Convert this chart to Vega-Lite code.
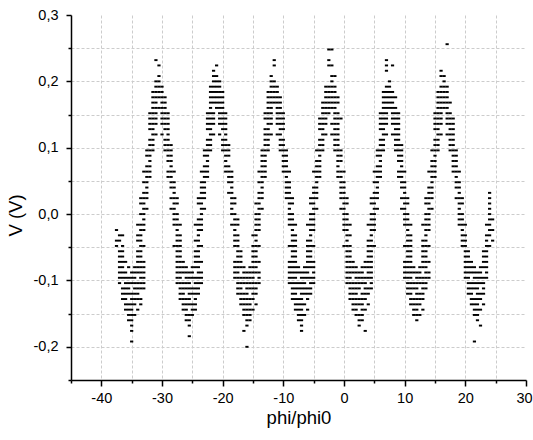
{
"$schema":"https://vega.github.io/schema/vega-lite/v6.json",
"width":455,"height":365,
"autosize":{"type":"none"},
"padding":{"left":71,"top":15,"right":7,"bottom":60},
"background":"white",
"config":{
"view":{"stroke":null},
"locale":{"number":{"decimal":",","thousands":".","grouping":[3],"currency":["",""],"minus":"-"}},
"font":"Liberation Sans",
"axis":{"domainColor":"black","domainWidth":1.5,"tickColor":"black","tickWidth":1.5,"labelColor":"black","labelFont":"Liberation Sans","labelFontSize":14.5,"titleFont":"Liberation Sans","titleFontSize":18.5,"titleFontWeight":"normal","titleColor":"black","gridColor":"#cccccc","gridDash":[3,2],"gridWidth":1}
},
"data":{"values":[
{"x":-37.5,"y":-0.024},{"x":-37,"y":-0.032},{"x":-36.5,"y":-0.032},{"x":-37.5,"y":-0.04},{"x":-37,"y":-0.04},{"x":-37.5,"y":-0.048},{"x":-36.5,"y":-0.048},{"x":-37,"y":-0.056},{"x":-36.5,"y":-0.056},{"x":-37,"y":-0.064},{"x":-36.5,"y":-0.064},
{"x":-37,"y":-0.072},{"x":-36.5,"y":-0.072},{"x":-36,"y":-0.072},{"x":-34,"y":-0.072},{"x":-33.5,"y":-0.072},{"x":-33,"y":-0.072},
{"x":-37,"y":-0.08},{"x":-36.5,"y":-0.08},{"x":-35.5,"y":-0.08},{"x":-34.5,"y":-0.08},{"x":-34,"y":-0.08},{"x":-33.5,"y":-0.08},{"x":-33,"y":-0.08},
{"x":-37,"y":-0.088},{"x":-36.5,"y":-0.088},{"x":-36,"y":-0.088},{"x":-35,"y":-0.088},{"x":-34.5,"y":-0.088},{"x":-34,"y":-0.088},{"x":-33.5,"y":-0.088},{"x":-33,"y":-0.088},
{"x":-37,"y":-0.096},{"x":-36.5,"y":-0.096},{"x":-36,"y":-0.096},{"x":-35.5,"y":-0.096},{"x":-35,"y":-0.096},{"x":-34.5,"y":-0.096},{"x":-33.5,"y":-0.096},{"x":-33,"y":-0.096},
{"x":-37,"y":-0.104},{"x":-36,"y":-0.104},{"x":-35.5,"y":-0.104},{"x":-35,"y":-0.104},{"x":-34.5,"y":-0.104},{"x":-34,"y":-0.104},{"x":-33.5,"y":-0.104},{"x":-33,"y":-0.104},
{"x":-36.5,"y":-0.112},{"x":-36,"y":-0.112},{"x":-35.5,"y":-0.112},{"x":-34.5,"y":-0.112},{"x":-34,"y":-0.112},{"x":-33.5,"y":-0.112},{"x":-33,"y":-0.112},
{"x":-36.5,"y":-0.12},{"x":-36,"y":-0.12},{"x":-35.5,"y":-0.12},{"x":-35,"y":-0.12},{"x":-34.5,"y":-0.12},{"x":-34,"y":-0.12},
{"x":-36.5,"y":-0.128},{"x":-36,"y":-0.128},{"x":-35,"y":-0.128},{"x":-34.5,"y":-0.128},{"x":-34,"y":-0.128},{"x":-33.5,"y":-0.128},
{"x":-36,"y":-0.136},{"x":-35.5,"y":-0.136},{"x":-35,"y":-0.136},{"x":-34.5,"y":-0.136},{"x":-33.5,"y":-0.136},
{"x":-36,"y":-0.144},{"x":-35.5,"y":-0.144},{"x":-35,"y":-0.144},{"x":-34,"y":-0.144},
{"x":-35.5,"y":-0.152},{"x":-35,"y":-0.152},{"x":-34.5,"y":-0.152},
{"x":-35.5,"y":-0.16},{"x":-35,"y":-0.16},{"x":-35,"y":-0.168},{"x":-35,"y":-0.176},{"x":-35,"y":-0.192},
{"x":-33.5,"y":-0.064},{"x":-34,"y":-0.064},{"x":-33.5,"y":-0.056},{"x":-34,"y":-0.056},{"x":-33,"y":-0.048},{"x":-33.5,"y":-0.048},{"x":-33.5,"y":-0.04},{"x":-34,"y":-0.04},{"x":-33.5,"y":-0.032},{"x":-34,"y":-0.032},{"x":-33,"y":-0.024},{"x":-33.5,"y":-0.024},{"x":-33,"y":-0.016},{"x":-33.5,"y":-0.016},{"x":-34,"y":-0.016},{"x":-33,"y":-0.008},{"x":-33,"y":0},{"x":-33.5,"y":0},{"x":-32.5,"y":0.008},{"x":-33,"y":0.008},{"x":-33,"y":0.016},{"x":-33.5,"y":0.016},{"x":-32.5,"y":0.024},{"x":-33,"y":0.024},{"x":-33.5,"y":0.024},{"x":-32.5,"y":0.032},{"x":-33,"y":0.032},{"x":-32.5,"y":0.04},{"x":-32.5,"y":0.048},{"x":-33,"y":0.048},{"x":-32,"y":0.056},{"x":-32.5,"y":0.056},{"x":-32,"y":0.064},{"x":-32.5,"y":0.064},{"x":-33,"y":0.064},{"x":-32,"y":0.072},{"x":-32.5,"y":0.072},{"x":-32,"y":0.08},{"x":-32,"y":0.088},{"x":-32.5,"y":0.088},{"x":-31.5,"y":0.096},{"x":-32,"y":0.096},{"x":-32.5,"y":0.096},{"x":-31.5,"y":0.104},{"x":-32,"y":0.104},{"x":-31.5,"y":0.112},{"x":-32,"y":0.112},{"x":-31,"y":0.12},{"x":-31.5,"y":0.12},{"x":-31.5,"y":0.128},{"x":-32,"y":0.128},{"x":-31,"y":0.136},{"x":-31.5,"y":0.136},{"x":-32,"y":0.136},
{"x":-30,"y":0.136},{"x":-29.5,"y":0.136},{"x":-29,"y":0.136},{"x":-29.5,"y":0.128},{"x":-29,"y":0.128},{"x":-30,"y":0.12},{"x":-29,"y":0.12},{"x":-29.5,"y":0.112},{"x":-29,"y":0.112},{"x":-29.5,"y":0.104},{"x":-29,"y":0.104},{"x":-28.5,"y":0.104},{"x":-29.5,"y":0.096},{"x":-29,"y":0.096},{"x":-28.5,"y":0.096},{"x":-29,"y":0.088},{"x":-28.5,"y":0.088},{"x":-29,"y":0.08},{"x":-28.5,"y":0.08},{"x":-28.5,"y":0.072},{"x":-29,"y":0.064},{"x":-28.5,"y":0.064},{"x":-28,"y":0.064},{"x":-29,"y":0.056},{"x":-28.5,"y":0.056},{"x":-28.5,"y":0.048},{"x":-28,"y":0.048},{"x":-28.5,"y":0.04},{"x":-28,"y":0.04},{"x":-28,"y":0.032},{"x":-28.5,"y":0.024},{"x":-28,"y":0.024},{"x":-27.5,"y":0.024},{"x":-28,"y":0.016},{"x":-27.5,"y":0.016},{"x":-28.5,"y":0.008},{"x":-28,"y":0.008},{"x":-28,"y":0},{"x":-27.5,"y":0},{"x":-28,"y":-0.008},{"x":-27.5,"y":-0.008},{"x":-28,"y":-0.016},{"x":-27.5,"y":-0.016},{"x":-27,"y":-0.016},{"x":-27.5,"y":-0.024},{"x":-27.5,"y":-0.032},{"x":-27,"y":-0.032},{"x":-27.5,"y":-0.04},{"x":-27,"y":-0.04},{"x":-28,"y":-0.048},{"x":-27.5,"y":-0.048},{"x":-27,"y":-0.048},{"x":-27.5,"y":-0.056},{"x":-27,"y":-0.056},{"x":-27.5,"y":-0.064},{"x":-27,"y":-0.064},
{"x":-31,"y":0.232},{"x":-30.5,"y":0.224},{"x":-30.5,"y":0.208},{"x":-31,"y":0.2},{"x":-30.5,"y":0.2},{"x":-31,"y":0.192},{"x":-30.5,"y":0.192},{"x":-30,"y":0.192},{"x":-31.5,"y":0.184},{"x":-31,"y":0.184},{"x":-30.5,"y":0.184},{"x":-30,"y":0.184},{"x":-31.5,"y":0.176},{"x":-31,"y":0.176},{"x":-30.5,"y":0.176},{"x":-30,"y":0.176},{"x":-29.5,"y":0.176},{"x":-31.5,"y":0.168},{"x":-31,"y":0.168},{"x":-30,"y":0.168},{"x":-29.5,"y":0.168},{"x":-31.5,"y":0.16},{"x":-31,"y":0.16},{"x":-30.5,"y":0.16},{"x":-30,"y":0.16},{"x":-29.5,"y":0.16},{"x":-32,"y":0.152},{"x":-31.5,"y":0.152},{"x":-31,"y":0.152},{"x":-30,"y":0.152},{"x":-29.5,"y":0.152},{"x":-29,"y":0.152},{"x":-32,"y":0.144},{"x":-31.5,"y":0.144},{"x":-31,"y":0.144},{"x":-30,"y":0.144},{"x":-29.5,"y":0.144},{"x":-29,"y":0.144},
{"x":-27.5,"y":-0.072},{"x":-27,"y":-0.072},{"x":-26.5,"y":-0.072},{"x":-24.5,"y":-0.072},{"x":-24,"y":-0.072},{"x":-23.5,"y":-0.072},
{"x":-27.5,"y":-0.08},{"x":-27,"y":-0.08},{"x":-26.5,"y":-0.08},{"x":-26,"y":-0.08},{"x":-25,"y":-0.08},{"x":-24.5,"y":-0.08},{"x":-24,"y":-0.08},
{"x":-27.5,"y":-0.088},{"x":-27,"y":-0.088},{"x":-26.5,"y":-0.088},{"x":-26,"y":-0.088},{"x":-25.5,"y":-0.088},{"x":-25,"y":-0.088},{"x":-24,"y":-0.088},{"x":-23.5,"y":-0.088},
{"x":-27.5,"y":-0.096},{"x":-27,"y":-0.096},{"x":-26,"y":-0.096},{"x":-25.5,"y":-0.096},{"x":-25,"y":-0.096},{"x":-24.5,"y":-0.096},{"x":-24,"y":-0.096},{"x":-23.5,"y":-0.096},
{"x":-27.5,"y":-0.104},{"x":-27,"y":-0.104},{"x":-26.5,"y":-0.104},{"x":-26,"y":-0.104},{"x":-25.5,"y":-0.104},{"x":-24.5,"y":-0.104},{"x":-24,"y":-0.104},{"x":-23.5,"y":-0.104},
{"x":-27,"y":-0.112},{"x":-26.5,"y":-0.112},{"x":-26,"y":-0.112},{"x":-25.5,"y":-0.112},{"x":-25,"y":-0.112},{"x":-24.5,"y":-0.112},{"x":-24,"y":-0.112},
{"x":-27,"y":-0.12},{"x":-26.5,"y":-0.12},{"x":-25.5,"y":-0.12},{"x":-25,"y":-0.12},{"x":-24.5,"y":-0.12},{"x":-24,"y":-0.12},
{"x":-27,"y":-0.128},{"x":-26.5,"y":-0.128},{"x":-26,"y":-0.128},{"x":-25.5,"y":-0.128},{"x":-24.5,"y":-0.128},
{"x":-26.5,"y":-0.136},{"x":-26,"y":-0.136},{"x":-25.5,"y":-0.136},{"x":-25,"y":-0.136},{"x":-24.5,"y":-0.136},
{"x":-26.5,"y":-0.144},{"x":-26,"y":-0.144},{"x":-25,"y":-0.144},{"x":-24.5,"y":-0.144},
{"x":-26,"y":-0.152},{"x":-25.5,"y":-0.152},{"x":-25,"y":-0.152},{"x":-26,"y":-0.16},{"x":-25.5,"y":-0.16},{"x":-25.5,"y":-0.168},{"x":-25.5,"y":-0.184},
{"x":-24,"y":-0.064},{"x":-24.5,"y":-0.064},{"x":-24,"y":-0.056},{"x":-24.5,"y":-0.056},{"x":-23.5,"y":-0.048},{"x":-24,"y":-0.048},{"x":-24,"y":-0.04},{"x":-24.5,"y":-0.04},{"x":-24,"y":-0.032},{"x":-23.5,"y":-0.024},{"x":-24,"y":-0.024},{"x":-23.5,"y":-0.016},{"x":-24,"y":-0.016},{"x":-24.5,"y":-0.016},{"x":-23.5,"y":-0.008},{"x":-24,"y":-0.008},{"x":-23.5,"y":0},{"x":-23,"y":0.008},{"x":-23.5,"y":0.008},{"x":-23.5,"y":0.016},{"x":-24,"y":0.016},{"x":-23,"y":0.024},{"x":-23.5,"y":0.024},{"x":-24,"y":0.024},{"x":-23,"y":0.032},{"x":-23.5,"y":0.032},{"x":-23,"y":0.04},{"x":-23.5,"y":0.04},{"x":-23,"y":0.048},{"x":-23.5,"y":0.048},{"x":-22.5,"y":0.056},{"x":-23,"y":0.056},{"x":-22.5,"y":0.064},{"x":-23,"y":0.064},{"x":-23.5,"y":0.064},{"x":-22.5,"y":0.072},{"x":-23,"y":0.072},{"x":-22.5,"y":0.08},{"x":-22.5,"y":0.088},{"x":-23,"y":0.088},{"x":-22,"y":0.096},{"x":-22.5,"y":0.096},{"x":-23,"y":0.096},{"x":-22,"y":0.104},{"x":-22.5,"y":0.104},{"x":-22,"y":0.112},{"x":-22.5,"y":0.112},{"x":-21.5,"y":0.12},{"x":-22,"y":0.12},{"x":-22,"y":0.128},{"x":-22.5,"y":0.128},{"x":-21.5,"y":0.136},{"x":-22,"y":0.136},{"x":-22.5,"y":0.136},
{"x":-20.5,"y":0.136},{"x":-20,"y":0.136},{"x":-19.5,"y":0.136},{"x":-20,"y":0.128},{"x":-19.5,"y":0.128},{"x":-20.5,"y":0.12},{"x":-19.5,"y":0.12},{"x":-20,"y":0.112},{"x":-19.5,"y":0.112},{"x":-20,"y":0.104},{"x":-19.5,"y":0.104},{"x":-19,"y":0.104},{"x":-20,"y":0.096},{"x":-19.5,"y":0.096},{"x":-19,"y":0.096},{"x":-19.5,"y":0.088},{"x":-19,"y":0.088},{"x":-19.5,"y":0.08},{"x":-19.5,"y":0.072},{"x":-19,"y":0.072},{"x":-19.5,"y":0.064},{"x":-19,"y":0.064},{"x":-18.5,"y":0.064},{"x":-19,"y":0.056},{"x":-18.5,"y":0.056},{"x":-19,"y":0.048},{"x":-18.5,"y":0.048},{"x":-18.5,"y":0.04},{"x":-19,"y":0.032},{"x":-18.5,"y":0.032},{"x":-18.5,"y":0.024},{"x":-18,"y":0.024},{"x":-18.5,"y":0.016},{"x":-18,"y":0.016},{"x":-18.5,"y":0.008},{"x":-18.5,"y":0},{"x":-18,"y":0},{"x":-18,"y":-0.008},{"x":-17.5,"y":-0.008},{"x":-18.5,"y":-0.016},{"x":-18,"y":-0.016},{"x":-17.5,"y":-0.016},{"x":-18,"y":-0.024},{"x":-18,"y":-0.032},{"x":-17.5,"y":-0.032},{"x":-18,"y":-0.04},{"x":-17.5,"y":-0.04},{"x":-18,"y":-0.048},{"x":-17.5,"y":-0.048},{"x":-17.5,"y":-0.056},{"x":-17,"y":-0.056},{"x":-17.5,"y":-0.064},{"x":-17,"y":-0.064},
{"x":-21,"y":0.224},{"x":-21.5,"y":0.216},{"x":-21.5,"y":0.208},{"x":-21,"y":0.208},{"x":-21.5,"y":0.2},{"x":-21,"y":0.2},{"x":-20.5,"y":0.2},{"x":-22,"y":0.192},{"x":-21.5,"y":0.192},{"x":-21,"y":0.192},{"x":-20.5,"y":0.192},{"x":-22,"y":0.184},{"x":-21.5,"y":0.184},{"x":-21,"y":0.184},{"x":-20.5,"y":0.184},{"x":-20,"y":0.184},{"x":-22,"y":0.176},{"x":-21.5,"y":0.176},{"x":-21,"y":0.176},{"x":-20.5,"y":0.176},{"x":-20,"y":0.176},{"x":-22,"y":0.168},{"x":-21.5,"y":0.168},{"x":-21,"y":0.168},{"x":-20.5,"y":0.168},{"x":-20,"y":0.168},{"x":-22,"y":0.16},{"x":-21,"y":0.16},{"x":-20.5,"y":0.16},{"x":-20,"y":0.16},{"x":-22.5,"y":0.152},{"x":-22,"y":0.152},{"x":-21.5,"y":0.152},{"x":-20.5,"y":0.152},{"x":-20,"y":0.152},{"x":-19.5,"y":0.152},{"x":-22.5,"y":0.144},{"x":-22,"y":0.144},{"x":-21.5,"y":0.144},{"x":-20.5,"y":0.144},{"x":-20,"y":0.144},{"x":-19.5,"y":0.144},
{"x":-18,"y":-0.072},{"x":-17.5,"y":-0.072},{"x":-17,"y":-0.072},{"x":-15,"y":-0.072},{"x":-14.5,"y":-0.072},{"x":-14,"y":-0.072},
{"x":-18,"y":-0.08},{"x":-17.5,"y":-0.08},{"x":-17,"y":-0.08},{"x":-16.5,"y":-0.08},{"x":-15.5,"y":-0.08},{"x":-15,"y":-0.08},{"x":-14.5,"y":-0.08},
{"x":-18,"y":-0.088},{"x":-17.5,"y":-0.088},{"x":-16.5,"y":-0.088},{"x":-16,"y":-0.088},{"x":-15.5,"y":-0.088},{"x":-15,"y":-0.088},{"x":-14.5,"y":-0.088},{"x":-14,"y":-0.088},
{"x":-18,"y":-0.096},{"x":-17.5,"y":-0.096},{"x":-17,"y":-0.096},{"x":-16.5,"y":-0.096},{"x":-16,"y":-0.096},{"x":-15.5,"y":-0.096},{"x":-15,"y":-0.096},{"x":-14,"y":-0.096},
{"x":-17.5,"y":-0.104},{"x":-17,"y":-0.104},{"x":-16.5,"y":-0.104},{"x":-16,"y":-0.104},{"x":-15.5,"y":-0.104},{"x":-15,"y":-0.104},{"x":-14.5,"y":-0.104},{"x":-14,"y":-0.104},
{"x":-17.5,"y":-0.112},{"x":-17,"y":-0.112},{"x":-16,"y":-0.112},{"x":-15.5,"y":-0.112},{"x":-15,"y":-0.112},{"x":-14.5,"y":-0.112},
{"x":-17.5,"y":-0.12},{"x":-17,"y":-0.12},{"x":-16.5,"y":-0.12},{"x":-16,"y":-0.12},{"x":-15,"y":-0.12},{"x":-14.5,"y":-0.12},
{"x":-17,"y":-0.128},{"x":-16.5,"y":-0.128},{"x":-16,"y":-0.128},{"x":-15.5,"y":-0.128},{"x":-15,"y":-0.128},
{"x":-17,"y":-0.136},{"x":-16.5,"y":-0.136},{"x":-16,"y":-0.136},{"x":-15.5,"y":-0.136},{"x":-14.5,"y":-0.136},
{"x":-16.5,"y":-0.144},{"x":-16,"y":-0.144},{"x":-15.5,"y":-0.144},{"x":-15,"y":-0.144},
{"x":-16.5,"y":-0.152},{"x":-16,"y":-0.152},{"x":-15.5,"y":-0.152},{"x":-16,"y":-0.16},{"x":-15.5,"y":-0.16},{"x":-16,"y":-0.168},{"x":-16.5,"y":-0.176},{"x":-16,"y":-0.2},
{"x":-14.5,"y":-0.064},{"x":-15,"y":-0.064},{"x":-14.5,"y":-0.056},{"x":-15,"y":-0.056},{"x":-14,"y":-0.048},{"x":-14.5,"y":-0.048},{"x":-15,"y":-0.048},{"x":-14.5,"y":-0.04},{"x":-14.5,"y":-0.032},{"x":-15,"y":-0.032},{"x":-14,"y":-0.024},{"x":-14.5,"y":-0.024},{"x":-14,"y":-0.016},{"x":-14.5,"y":-0.016},{"x":-14,"y":-0.008},{"x":-14.5,"y":-0.008},{"x":-14,"y":0},{"x":-14.5,"y":0},{"x":-13.5,"y":0.008},{"x":-14,"y":0.008},{"x":-14,"y":0.016},{"x":-14.5,"y":0.016},{"x":-13.5,"y":0.024},{"x":-14,"y":0.024},{"x":-13.5,"y":0.032},{"x":-14,"y":0.032},{"x":-13.5,"y":0.04},{"x":-13.5,"y":0.048},{"x":-14,"y":0.048},{"x":-13,"y":0.056},{"x":-13.5,"y":0.056},{"x":-13,"y":0.064},{"x":-13.5,"y":0.064},{"x":-14,"y":0.064},{"x":-13,"y":0.072},{"x":-13.5,"y":0.072},{"x":-13,"y":0.08},{"x":-13.5,"y":0.08},{"x":-13,"y":0.088},{"x":-13.5,"y":0.088},{"x":-12.5,"y":0.096},{"x":-13,"y":0.096},{"x":-13.5,"y":0.096},{"x":-12.5,"y":0.104},{"x":-13,"y":0.104},{"x":-12.5,"y":0.112},{"x":-13,"y":0.112},{"x":-12,"y":0.12},{"x":-12.5,"y":0.12},{"x":-13,"y":0.12},{"x":-12.5,"y":0.128},{"x":-13,"y":0.128},{"x":-12,"y":0.136},{"x":-12.5,"y":0.136},
{"x":-11,"y":0.136},{"x":-10.5,"y":0.136},{"x":-10,"y":0.136},{"x":-10.5,"y":0.128},{"x":-10,"y":0.128},{"x":-11,"y":0.12},{"x":-10.5,"y":0.12},{"x":-10.5,"y":0.112},{"x":-10,"y":0.112},{"x":-10.5,"y":0.104},{"x":-10,"y":0.104},{"x":-10.5,"y":0.096},{"x":-10,"y":0.096},{"x":-9.5,"y":0.096},{"x":-10,"y":0.088},{"x":-9.5,"y":0.088},{"x":-10,"y":0.08},{"x":-9.5,"y":0.08},{"x":-10,"y":0.072},{"x":-9.5,"y":0.072},{"x":-10,"y":0.064},{"x":-9.5,"y":0.064},{"x":-9,"y":0.064},{"x":-9.5,"y":0.056},{"x":-9.5,"y":0.048},{"x":-9,"y":0.048},{"x":-9.5,"y":0.04},{"x":-9,"y":0.04},{"x":-9.5,"y":0.032},{"x":-9,"y":0.032},{"x":-9.5,"y":0.024},{"x":-9,"y":0.024},{"x":-8.5,"y":0.024},{"x":-9,"y":0.016},{"x":-8.5,"y":0.016},{"x":-9,"y":0.008},{"x":-9,"y":0},{"x":-8.5,"y":0},{"x":-9,"y":-0.008},{"x":-8.5,"y":-0.008},{"x":-9,"y":-0.016},{"x":-8.5,"y":-0.016},{"x":-8,"y":-0.016},{"x":-8.5,"y":-0.024},{"x":-8.5,"y":-0.032},{"x":-8,"y":-0.032},{"x":-8.5,"y":-0.04},{"x":-8,"y":-0.04},{"x":-9,"y":-0.048},{"x":-8.5,"y":-0.048},{"x":-8,"y":-0.048},{"x":-8.5,"y":-0.056},{"x":-8,"y":-0.056},{"x":-8.5,"y":-0.064},{"x":-8,"y":-0.064},
{"x":-11.5,"y":0.232},{"x":-11.5,"y":0.224},{"x":-12,"y":0.208},{"x":-12,"y":0.2},{"x":-11.5,"y":0.2},{"x":-12,"y":0.192},{"x":-11.5,"y":0.192},{"x":-11,"y":0.192},{"x":-12.5,"y":0.184},{"x":-12,"y":0.184},{"x":-11.5,"y":0.184},{"x":-11,"y":0.184},{"x":-12.5,"y":0.176},{"x":-12,"y":0.176},{"x":-11.5,"y":0.176},{"x":-11,"y":0.176},{"x":-10.5,"y":0.176},{"x":-12.5,"y":0.168},{"x":-12,"y":0.168},{"x":-11.5,"y":0.168},{"x":-11,"y":0.168},{"x":-10.5,"y":0.168},{"x":-12.5,"y":0.16},{"x":-12,"y":0.16},{"x":-11,"y":0.16},{"x":-10.5,"y":0.16},{"x":-13,"y":0.152},{"x":-12.5,"y":0.152},{"x":-12,"y":0.152},{"x":-11,"y":0.152},{"x":-10.5,"y":0.152},{"x":-10,"y":0.152},{"x":-13,"y":0.144},{"x":-12.5,"y":0.144},{"x":-12,"y":0.144},{"x":-11,"y":0.144},{"x":-10.5,"y":0.144},{"x":-10,"y":0.144},
{"x":-9,"y":-0.072},{"x":-8.5,"y":-0.072},{"x":-8,"y":-0.072},{"x":-6,"y":-0.072},{"x":-5.5,"y":-0.072},{"x":-5,"y":-0.072},
{"x":-9,"y":-0.08},{"x":-8.5,"y":-0.08},{"x":-8,"y":-0.08},{"x":-7.5,"y":-0.08},{"x":-6.5,"y":-0.08},{"x":-6,"y":-0.08},{"x":-5.5,"y":-0.08},{"x":-5,"y":-0.08},
{"x":-9,"y":-0.088},{"x":-8.5,"y":-0.088},{"x":-8,"y":-0.088},{"x":-7.5,"y":-0.088},{"x":-7,"y":-0.088},{"x":-6.5,"y":-0.088},{"x":-6,"y":-0.088},{"x":-5,"y":-0.088},
{"x":-9,"y":-0.096},{"x":-8.5,"y":-0.096},{"x":-8,"y":-0.096},{"x":-7,"y":-0.096},{"x":-6.5,"y":-0.096},{"x":-6,"y":-0.096},{"x":-5.5,"y":-0.096},{"x":-5,"y":-0.096},
{"x":-9,"y":-0.104},{"x":-8.5,"y":-0.104},{"x":-8,"y":-0.104},{"x":-7.5,"y":-0.104},{"x":-7,"y":-0.104},{"x":-6.5,"y":-0.104},{"x":-5.5,"y":-0.104},{"x":-5,"y":-0.104},
{"x":-8.5,"y":-0.112},{"x":-8,"y":-0.112},{"x":-7.5,"y":-0.112},{"x":-7,"y":-0.112},{"x":-6.5,"y":-0.112},{"x":-6,"y":-0.112},{"x":-5.5,"y":-0.112},
{"x":-8.5,"y":-0.12},{"x":-8,"y":-0.12},{"x":-7,"y":-0.12},{"x":-6.5,"y":-0.12},{"x":-6,"y":-0.12},{"x":-5.5,"y":-0.12},
{"x":-8.5,"y":-0.128},{"x":-8,"y":-0.128},{"x":-7.5,"y":-0.128},{"x":-7,"y":-0.128},{"x":-6,"y":-0.128},
{"x":-8,"y":-0.136},{"x":-7.5,"y":-0.136},{"x":-7,"y":-0.136},{"x":-6.5,"y":-0.136},
{"x":-8,"y":-0.144},{"x":-7.5,"y":-0.144},{"x":-7,"y":-0.144},{"x":-6,"y":-0.144},
{"x":-7.5,"y":-0.152},{"x":-7,"y":-0.152},{"x":-6.5,"y":-0.152},{"x":-7.5,"y":-0.16},{"x":-7,"y":-0.16},{"x":-7,"y":-0.168},{"x":-7,"y":-0.176},
{"x":-5.5,"y":-0.064},{"x":-6,"y":-0.064},{"x":-5.5,"y":-0.056},{"x":-6,"y":-0.056},{"x":-5,"y":-0.048},{"x":-5.5,"y":-0.048},{"x":-6,"y":-0.048},{"x":-5.5,"y":-0.04},{"x":-6,"y":-0.04},{"x":-5.5,"y":-0.032},{"x":-5,"y":-0.024},{"x":-5.5,"y":-0.024},{"x":-5,"y":-0.016},{"x":-5.5,"y":-0.016},{"x":-6,"y":-0.016},{"x":-5,"y":-0.008},{"x":-5.5,"y":-0.008},{"x":-5,"y":0},{"x":-5.5,"y":0},{"x":-4.5,"y":0.008},{"x":-5,"y":0.008},{"x":-5,"y":0.016},{"x":-5.5,"y":0.016},{"x":-4.5,"y":0.024},{"x":-5,"y":0.024},{"x":-5.5,"y":0.024},{"x":-4.5,"y":0.032},{"x":-5,"y":0.032},{"x":-4.5,"y":0.04},{"x":-5,"y":0.04},{"x":-4.5,"y":0.048},{"x":-4,"y":0.056},{"x":-4.5,"y":0.056},{"x":-4,"y":0.064},{"x":-4.5,"y":0.064},{"x":-5,"y":0.064},{"x":-4,"y":0.072},{"x":-4.5,"y":0.072},{"x":-4,"y":0.08},{"x":-4.5,"y":0.08},{"x":-4,"y":0.088},{"x":-3.5,"y":0.096},{"x":-4,"y":0.096},{"x":-4.5,"y":0.096},{"x":-3.5,"y":0.104},{"x":-4,"y":0.104},{"x":-3.5,"y":0.112},{"x":-4,"y":0.112},{"x":-3,"y":0.12},{"x":-3.5,"y":0.12},{"x":-3.5,"y":0.128},{"x":-4,"y":0.128},{"x":-3,"y":0.136},{"x":-3.5,"y":0.136},{"x":-4,"y":0.136},
{"x":-2,"y":0.136},{"x":-1.5,"y":0.136},{"x":-1,"y":0.136},{"x":-1.5,"y":0.128},{"x":-1,"y":0.128},{"x":-2,"y":0.12},{"x":-1.5,"y":0.12},{"x":-1,"y":0.12},{"x":-1.5,"y":0.112},{"x":-1,"y":0.112},{"x":-1.5,"y":0.104},{"x":-1,"y":0.104},{"x":-1.5,"y":0.096},{"x":-1,"y":0.096},{"x":-0.5,"y":0.096},{"x":-1,"y":0.088},{"x":-0.5,"y":0.088},{"x":-1,"y":0.08},{"x":-0.5,"y":0.08},{"x":-1,"y":0.072},{"x":-1,"y":0.064},{"x":-0.5,"y":0.064},{"x":0,"y":0.064},{"x":-1,"y":0.056},{"x":-0.5,"y":0.056},{"x":-0.5,"y":0.048},{"x":0,"y":0.048},{"x":-0.5,"y":0.04},{"x":0,"y":0.04},{"x":-0.5,"y":0.032},{"x":0,"y":0.032},{"x":-0.5,"y":0.024},{"x":0,"y":0.024},{"x":0.5,"y":0.024},{"x":0,"y":0.016},{"x":0.5,"y":0.016},{"x":-0.5,"y":0.008},{"x":0,"y":0.008},{"x":0,"y":0},{"x":0.5,"y":0},{"x":0,"y":-0.008},{"x":0.5,"y":-0.008},{"x":0,"y":-0.016},{"x":0.5,"y":-0.016},{"x":1,"y":-0.016},{"x":0,"y":-0.024},{"x":0.5,"y":-0.024},{"x":0.5,"y":-0.032},{"x":1,"y":-0.032},{"x":0.5,"y":-0.04},{"x":0,"y":-0.048},{"x":0.5,"y":-0.048},{"x":1,"y":-0.048},{"x":0.5,"y":-0.056},{"x":1,"y":-0.056},{"x":0.5,"y":-0.064},{"x":1,"y":-0.064},
{"x":-2.5,"y":0.248},{"x":-2,"y":0.248},{"x":-2.5,"y":0.232},{"x":-2.5,"y":0.224},{"x":-2,"y":0.224},{"x":-2,"y":0.208},{"x":-1.5,"y":0.208},{"x":-2,"y":0.2},{"x":-3,"y":0.192},{"x":-2.5,"y":0.192},{"x":-2,"y":0.192},{"x":-1.5,"y":0.192},{"x":-3,"y":0.184},{"x":-2.5,"y":0.184},{"x":-2,"y":0.184},{"x":-1.5,"y":0.184},{"x":-3,"y":0.176},{"x":-2.5,"y":0.176},{"x":-2,"y":0.176},{"x":-1.5,"y":0.176},{"x":-1,"y":0.176},{"x":-3.5,"y":0.168},{"x":-3,"y":0.168},{"x":-2.5,"y":0.168},{"x":-2,"y":0.168},{"x":-1.5,"y":0.168},{"x":-1,"y":0.168},{"x":-3.5,"y":0.16},{"x":-3,"y":0.16},{"x":-2.5,"y":0.16},{"x":-2,"y":0.16},{"x":-1.5,"y":0.16},{"x":-3.5,"y":0.152},{"x":-3,"y":0.152},{"x":-2.5,"y":0.152},{"x":-1.5,"y":0.152},{"x":-1,"y":0.152},{"x":-4,"y":0.144},{"x":-3.5,"y":0.144},{"x":-3,"y":0.144},{"x":-1.5,"y":0.144},{"x":-1,"y":0.144},{"x":-0.5,"y":0.144},
{"x":0.5,"y":-0.072},{"x":1,"y":-0.072},{"x":1.5,"y":-0.072},{"x":3.5,"y":-0.072},{"x":4,"y":-0.072},{"x":4.5,"y":-0.072},
{"x":0.5,"y":-0.08},{"x":1,"y":-0.08},{"x":1.5,"y":-0.08},{"x":2,"y":-0.08},{"x":3,"y":-0.08},{"x":3.5,"y":-0.08},{"x":4,"y":-0.08},{"x":4.5,"y":-0.08},
{"x":0.5,"y":-0.088},{"x":1,"y":-0.088},{"x":1.5,"y":-0.088},{"x":2,"y":-0.088},{"x":2.5,"y":-0.088},{"x":3,"y":-0.088},{"x":4,"y":-0.088},{"x":4.5,"y":-0.088},
{"x":0.5,"y":-0.096},{"x":1,"y":-0.096},{"x":2,"y":-0.096},{"x":2.5,"y":-0.096},{"x":3,"y":-0.096},{"x":3.5,"y":-0.096},{"x":4,"y":-0.096},{"x":4.5,"y":-0.096},
{"x":0.5,"y":-0.104},{"x":1,"y":-0.104},{"x":1.5,"y":-0.104},{"x":2,"y":-0.104},{"x":2.5,"y":-0.104},{"x":3,"y":-0.104},{"x":3.5,"y":-0.104},{"x":4.5,"y":-0.104},
{"x":1,"y":-0.112},{"x":1.5,"y":-0.112},{"x":2,"y":-0.112},{"x":2.5,"y":-0.112},{"x":3.5,"y":-0.112},{"x":4,"y":-0.112},{"x":4.5,"y":-0.112},
{"x":1,"y":-0.12},{"x":1.5,"y":-0.12},{"x":2,"y":-0.12},{"x":3,"y":-0.12},{"x":3.5,"y":-0.12},{"x":4,"y":-0.12},
{"x":1,"y":-0.128},{"x":1.5,"y":-0.128},{"x":2,"y":-0.128},{"x":2.5,"y":-0.128},{"x":3,"y":-0.128},{"x":3.5,"y":-0.128},
{"x":1.5,"y":-0.136},{"x":2,"y":-0.136},{"x":2.5,"y":-0.136},{"x":3,"y":-0.136},{"x":4,"y":-0.136},
{"x":1.5,"y":-0.144},{"x":2,"y":-0.144},{"x":3,"y":-0.144},{"x":3.5,"y":-0.144},
{"x":2,"y":-0.152},{"x":2.5,"y":-0.152},{"x":3,"y":-0.152},{"x":2.5,"y":-0.16},{"x":3,"y":-0.16},{"x":2.5,"y":-0.168},{"x":3.5,"y":-0.176},
{"x":4.5,"y":-0.064},{"x":4,"y":-0.064},{"x":4.5,"y":-0.056},{"x":4,"y":-0.056},{"x":5,"y":-0.048},{"x":4.5,"y":-0.048},{"x":4,"y":-0.048},{"x":4.5,"y":-0.04},{"x":4,"y":-0.04},{"x":4.5,"y":-0.032},{"x":5,"y":-0.024},{"x":4.5,"y":-0.024},{"x":5,"y":-0.016},{"x":4.5,"y":-0.016},{"x":4,"y":-0.016},{"x":5,"y":-0.008},{"x":4.5,"y":-0.008},{"x":5,"y":0},{"x":4.5,"y":0},{"x":5.5,"y":0.008},{"x":5,"y":0.008},{"x":5,"y":0.016},{"x":4.5,"y":0.016},{"x":5.5,"y":0.024},{"x":5,"y":0.024},{"x":4.5,"y":0.024},{"x":5.5,"y":0.032},{"x":5,"y":0.032},{"x":5.5,"y":0.04},{"x":5.5,"y":0.048},{"x":5,"y":0.048},{"x":6,"y":0.056},{"x":5.5,"y":0.056},{"x":6,"y":0.064},{"x":5.5,"y":0.064},{"x":5,"y":0.064},{"x":6,"y":0.072},{"x":5.5,"y":0.072},{"x":6,"y":0.08},{"x":6,"y":0.088},{"x":5.5,"y":0.088},{"x":6.5,"y":0.096},{"x":6,"y":0.096},{"x":5.5,"y":0.096},{"x":6.5,"y":0.104},{"x":6,"y":0.104},{"x":6.5,"y":0.112},{"x":6,"y":0.112},{"x":7,"y":0.12},{"x":6.5,"y":0.12},{"x":6.5,"y":0.128},{"x":6,"y":0.128},{"x":7,"y":0.136},{"x":6.5,"y":0.136},{"x":6,"y":0.136},
{"x":8,"y":0.136},{"x":8.5,"y":0.136},{"x":9,"y":0.136},{"x":8.5,"y":0.128},{"x":9,"y":0.128},{"x":8,"y":0.12},{"x":8.5,"y":0.12},{"x":9,"y":0.12},{"x":8.5,"y":0.112},{"x":9,"y":0.112},{"x":8.5,"y":0.104},{"x":9,"y":0.104},{"x":9.5,"y":0.104},{"x":8.5,"y":0.096},{"x":9,"y":0.096},{"x":9.5,"y":0.096},{"x":9,"y":0.088},{"x":9.5,"y":0.088},{"x":9,"y":0.08},{"x":9.5,"y":0.08},{"x":9.5,"y":0.072},{"x":9,"y":0.064},{"x":9.5,"y":0.064},{"x":10,"y":0.064},{"x":9,"y":0.056},{"x":9.5,"y":0.056},{"x":9.5,"y":0.048},{"x":10,"y":0.048},{"x":9.5,"y":0.04},{"x":10,"y":0.04},{"x":10,"y":0.032},{"x":9.5,"y":0.024},{"x":10,"y":0.024},{"x":10.5,"y":0.024},{"x":10,"y":0.016},{"x":10.5,"y":0.016},{"x":9.5,"y":0.008},{"x":10,"y":0.008},{"x":10,"y":0},{"x":10.5,"y":0},{"x":10,"y":-0.008},{"x":10.5,"y":-0.008},{"x":10,"y":-0.016},{"x":10.5,"y":-0.016},{"x":11,"y":-0.016},{"x":10.5,"y":-0.024},{"x":10.5,"y":-0.032},{"x":11,"y":-0.032},{"x":10.5,"y":-0.04},{"x":11,"y":-0.04},{"x":10,"y":-0.048},{"x":10.5,"y":-0.048},{"x":11,"y":-0.048},{"x":10.5,"y":-0.056},{"x":11,"y":-0.056},{"x":10.5,"y":-0.064},{"x":11,"y":-0.064},
{"x":7,"y":0.232},{"x":7,"y":0.224},{"x":8,"y":0.224},{"x":7,"y":0.216},{"x":7.5,"y":0.2},{"x":7,"y":0.192},{"x":7.5,"y":0.192},{"x":6.5,"y":0.184},{"x":7,"y":0.184},{"x":7.5,"y":0.184},{"x":8,"y":0.184},{"x":6.5,"y":0.176},{"x":7,"y":0.176},{"x":7.5,"y":0.176},{"x":8,"y":0.176},{"x":8.5,"y":0.176},{"x":6.5,"y":0.168},{"x":7,"y":0.168},{"x":7.5,"y":0.168},{"x":8,"y":0.168},{"x":6.5,"y":0.16},{"x":7,"y":0.16},{"x":7.5,"y":0.16},{"x":8,"y":0.16},{"x":8.5,"y":0.16},{"x":6,"y":0.152},{"x":6.5,"y":0.152},{"x":7,"y":0.152},{"x":8,"y":0.152},{"x":8.5,"y":0.152},{"x":9,"y":0.152},{"x":6,"y":0.144},{"x":6.5,"y":0.144},{"x":7,"y":0.144},{"x":8,"y":0.144},{"x":8.5,"y":0.144},{"x":9,"y":0.144},
{"x":10,"y":-0.072},{"x":10.5,"y":-0.072},{"x":11,"y":-0.072},{"x":13,"y":-0.072},{"x":13.5,"y":-0.072},{"x":14,"y":-0.072},
{"x":10,"y":-0.08},{"x":10.5,"y":-0.08},{"x":11,"y":-0.08},{"x":11.5,"y":-0.08},{"x":12.5,"y":-0.08},{"x":13,"y":-0.08},{"x":13.5,"y":-0.08},
{"x":10,"y":-0.088},{"x":10.5,"y":-0.088},{"x":11,"y":-0.088},{"x":11.5,"y":-0.088},{"x":12,"y":-0.088},{"x":12.5,"y":-0.088},{"x":13.5,"y":-0.088},{"x":14,"y":-0.088},
{"x":10,"y":-0.096},{"x":10.5,"y":-0.096},{"x":11,"y":-0.096},{"x":12,"y":-0.096},{"x":12.5,"y":-0.096},{"x":13,"y":-0.096},{"x":13.5,"y":-0.096},{"x":14,"y":-0.096},
{"x":10.5,"y":-0.104},{"x":11,"y":-0.104},{"x":11.5,"y":-0.104},{"x":12,"y":-0.104},{"x":12.5,"y":-0.104},{"x":13,"y":-0.104},{"x":13.5,"y":-0.104},
{"x":10.5,"y":-0.112},{"x":11,"y":-0.112},{"x":11.5,"y":-0.112},{"x":12,"y":-0.112},{"x":13,"y":-0.112},{"x":13.5,"y":-0.112},
{"x":10.5,"y":-0.12},{"x":11,"y":-0.12},{"x":12,"y":-0.12},{"x":12.5,"y":-0.12},{"x":13,"y":-0.12},
{"x":11,"y":-0.128},{"x":11.5,"y":-0.128},{"x":12,"y":-0.128},{"x":12.5,"y":-0.128},{"x":13,"y":-0.128},
{"x":11,"y":-0.136},{"x":11.5,"y":-0.136},{"x":12,"y":-0.136},{"x":12.5,"y":-0.136},
{"x":11.5,"y":-0.144},{"x":12,"y":-0.144},{"x":13,"y":-0.144},{"x":11.5,"y":-0.152},{"x":12,"y":-0.152},{"x":12.5,"y":-0.152},{"x":12,"y":-0.16},
{"x":13.5,"y":-0.064},{"x":13,"y":-0.064},{"x":13.5,"y":-0.056},{"x":13,"y":-0.056},{"x":14,"y":-0.048},{"x":13.5,"y":-0.048},{"x":13,"y":-0.048},{"x":13.5,"y":-0.04},{"x":13,"y":-0.04},{"x":13.5,"y":-0.032},{"x":14,"y":-0.024},{"x":13.5,"y":-0.024},{"x":14,"y":-0.016},{"x":13.5,"y":-0.016},{"x":13,"y":-0.016},{"x":14,"y":-0.008},{"x":13.5,"y":-0.008},{"x":14,"y":0},{"x":13.5,"y":0},{"x":14.5,"y":0.008},{"x":14,"y":0.008},{"x":14,"y":0.016},{"x":13.5,"y":0.016},{"x":14.5,"y":0.024},{"x":14,"y":0.024},{"x":13.5,"y":0.024},{"x":14.5,"y":0.032},{"x":14,"y":0.032},{"x":14.5,"y":0.04},{"x":14,"y":0.04},{"x":14.5,"y":0.048},{"x":15,"y":0.056},{"x":14.5,"y":0.056},{"x":15,"y":0.064},{"x":14.5,"y":0.064},{"x":14,"y":0.064},{"x":15,"y":0.072},{"x":14.5,"y":0.072},{"x":15,"y":0.08},{"x":14.5,"y":0.08},{"x":15,"y":0.088},{"x":15.5,"y":0.096},{"x":15,"y":0.096},{"x":14.5,"y":0.096},{"x":15.5,"y":0.104},{"x":15,"y":0.104},{"x":15.5,"y":0.112},{"x":15,"y":0.112},{"x":16,"y":0.12},{"x":15.5,"y":0.12},{"x":15.5,"y":0.128},{"x":15,"y":0.128},{"x":16,"y":0.136},{"x":15.5,"y":0.136},{"x":15,"y":0.136},
{"x":17,"y":0.136},{"x":17.5,"y":0.136},{"x":18,"y":0.136},{"x":17.5,"y":0.128},{"x":18,"y":0.128},{"x":17,"y":0.12},{"x":17.5,"y":0.12},{"x":18,"y":0.12},{"x":17.5,"y":0.112},{"x":18,"y":0.112},{"x":17.5,"y":0.104},{"x":18,"y":0.104},{"x":17.5,"y":0.096},{"x":18,"y":0.096},{"x":18.5,"y":0.096},{"x":18,"y":0.088},{"x":18.5,"y":0.088},{"x":18,"y":0.08},{"x":18.5,"y":0.08},{"x":18,"y":0.072},{"x":18.5,"y":0.072},{"x":18,"y":0.064},{"x":18.5,"y":0.064},{"x":19,"y":0.064},{"x":18.5,"y":0.056},{"x":18.5,"y":0.048},{"x":19,"y":0.048},{"x":18.5,"y":0.04},{"x":19,"y":0.04},{"x":19,"y":0.032},{"x":18.5,"y":0.024},{"x":19,"y":0.024},{"x":19.5,"y":0.024},{"x":19,"y":0.016},{"x":19.5,"y":0.016},{"x":19,"y":0.008},{"x":19,"y":0},{"x":19.5,"y":0},{"x":19,"y":-0.008},{"x":19.5,"y":-0.008},{"x":19,"y":-0.016},{"x":19.5,"y":-0.016},{"x":20,"y":-0.016},{"x":19.5,"y":-0.024},{"x":19.5,"y":-0.032},{"x":20,"y":-0.032},{"x":19.5,"y":-0.04},{"x":20,"y":-0.04},{"x":19.5,"y":-0.048},{"x":20,"y":-0.048},{"x":20,"y":-0.056},{"x":20.5,"y":-0.056},{"x":20,"y":-0.064},{"x":20.5,"y":-0.064},
{"x":17,"y":0.256},{"x":16,"y":0.216},{"x":16,"y":0.208},{"x":16.5,"y":0.208},{"x":16.5,"y":0.2},{"x":16,"y":0.192},{"x":16.5,"y":0.192},{"x":17,"y":0.192},{"x":15.5,"y":0.184},{"x":16,"y":0.184},{"x":16.5,"y":0.184},{"x":17,"y":0.184},{"x":15.5,"y":0.176},{"x":16,"y":0.176},{"x":16.5,"y":0.176},{"x":17,"y":0.176},{"x":15.5,"y":0.168},{"x":16,"y":0.168},{"x":16.5,"y":0.168},{"x":17,"y":0.168},{"x":17.5,"y":0.168},{"x":15.5,"y":0.16},{"x":16,"y":0.16},{"x":16.5,"y":0.16},{"x":17,"y":0.16},{"x":15,"y":0.152},{"x":15.5,"y":0.152},{"x":16,"y":0.152},{"x":17,"y":0.152},{"x":17.5,"y":0.152},{"x":15,"y":0.144},{"x":15.5,"y":0.144},{"x":16,"y":0.144},{"x":17,"y":0.144},{"x":17.5,"y":0.144},{"x":18,"y":0.144},
{"x":20,"y":-0.072},{"x":20.5,"y":-0.072},{"x":21,"y":-0.072},{"x":23,"y":-0.072},{"x":23.5,"y":-0.072},
{"x":20,"y":-0.08},{"x":20.5,"y":-0.08},{"x":21,"y":-0.08},{"x":21.5,"y":-0.08},{"x":22.5,"y":-0.08},{"x":23,"y":-0.08},{"x":23.5,"y":-0.08},
{"x":20,"y":-0.088},{"x":20.5,"y":-0.088},{"x":21,"y":-0.088},{"x":21.5,"y":-0.088},{"x":22,"y":-0.088},{"x":22.5,"y":-0.088},{"x":23.5,"y":-0.088},
{"x":20,"y":-0.096},{"x":20.5,"y":-0.096},{"x":21.5,"y":-0.096},{"x":22,"y":-0.096},{"x":22.5,"y":-0.096},{"x":23,"y":-0.096},{"x":23.5,"y":-0.096},
{"x":20.5,"y":-0.104},{"x":21,"y":-0.104},{"x":21.5,"y":-0.104},{"x":22,"y":-0.104},{"x":22.5,"y":-0.104},{"x":23,"y":-0.104},
{"x":20.5,"y":-0.112},{"x":21,"y":-0.112},{"x":21.5,"y":-0.112},{"x":22,"y":-0.112},{"x":23,"y":-0.112},
{"x":20.5,"y":-0.12},{"x":21,"y":-0.12},{"x":22,"y":-0.12},{"x":22.5,"y":-0.12},{"x":23,"y":-0.12},
{"x":21,"y":-0.128},{"x":21.5,"y":-0.128},{"x":22,"y":-0.128},{"x":22.5,"y":-0.128},
{"x":21,"y":-0.136},{"x":21.5,"y":-0.136},{"x":22,"y":-0.136},{"x":23,"y":-0.136},
{"x":21.5,"y":-0.144},{"x":22,"y":-0.144},{"x":22.5,"y":-0.144},{"x":21.5,"y":-0.152},{"x":22,"y":-0.152},{"x":22,"y":-0.16},{"x":22.5,"y":-0.168},{"x":21.5,"y":-0.192},
{"x":23.5,"y":-0.064},{"x":23,"y":-0.064},{"x":23.5,"y":-0.056},{"x":23,"y":-0.056},{"x":24,"y":-0.048},{"x":23.5,"y":-0.048},{"x":23.5,"y":-0.04},{"x":24.5,"y":-0.04},{"x":24,"y":-0.032},{"x":23.5,"y":-0.032},{"x":24,"y":-0.024},{"x":24.5,"y":-0.024},{"x":24,"y":-0.016},{"x":23.5,"y":-0.016},{"x":24.5,"y":-0.008},{"x":24,"y":-0.008},{"x":24,"y":0},{"x":24,"y":0.008},{"x":24,"y":0.016},{"x":24,"y":0.024},{"x":24,"y":0.032}
]},
"mark":{"type":"point","shape":"M-1,-0.6H1V0.6H-1Z","filled":true,"size":10.24,"color":"black","opacity":1,"strokeWidth":0},
"encoding":{
"x":{"field":"x","type":"quantitative","scale":{"domain":[-45,30],"nice":false,"zero":false},
"axis":{"title":"phi/phi0","values":[-45,-40,-35,-30,-25,-20,-15,-10,-5,0,5,10,15,20,25,30],"format":"d","labelExpr":"datum.value % 10 === 0 ? datum.label : ''","tickSize":{"condition":{"test":"datum.value % 10 === 0","value":6},"value":3},"labelOffset":{"condition":{"test":"datum.value === 30","value":-2},"value":0},"labelPadding":5,"grid":true,"gridOpacity":{"condition":{"test":"datum.value === -45 || datum.value === 30","value":0},"value":1},"titlePadding":4,"labelFlush":false,"labelOverlap":false}},
"y":{"field":"y","type":"quantitative","scale":{"domain":[-0.25,0.3],"nice":false,"zero":false},
"axis":{"title":"V (V)","values":[-0.25,-0.2,-0.15,-0.1,-0.05,0,0.05,0.1,0.15,0.2,0.25,0.3],"format":".1f","labelExpr":"abs(round(datum.value*100)) % 10 === 0 ? datum.label : ''","tickSize":{"condition":{"test":"abs(round(datum.value*100)) % 10 === 0","value":5},"value":3},"labelPadding":8,"grid":true,"gridOpacity":{"condition":{"test":"datum.value === -0.25 || datum.value === 0.3","value":0},"value":1},"titleX":-56,"titleY":200,"titleAngle":-90,"titleAlign":"center","titleBaseline":"middle","labelFlush":false,"labelOverlap":false}}
}
}
